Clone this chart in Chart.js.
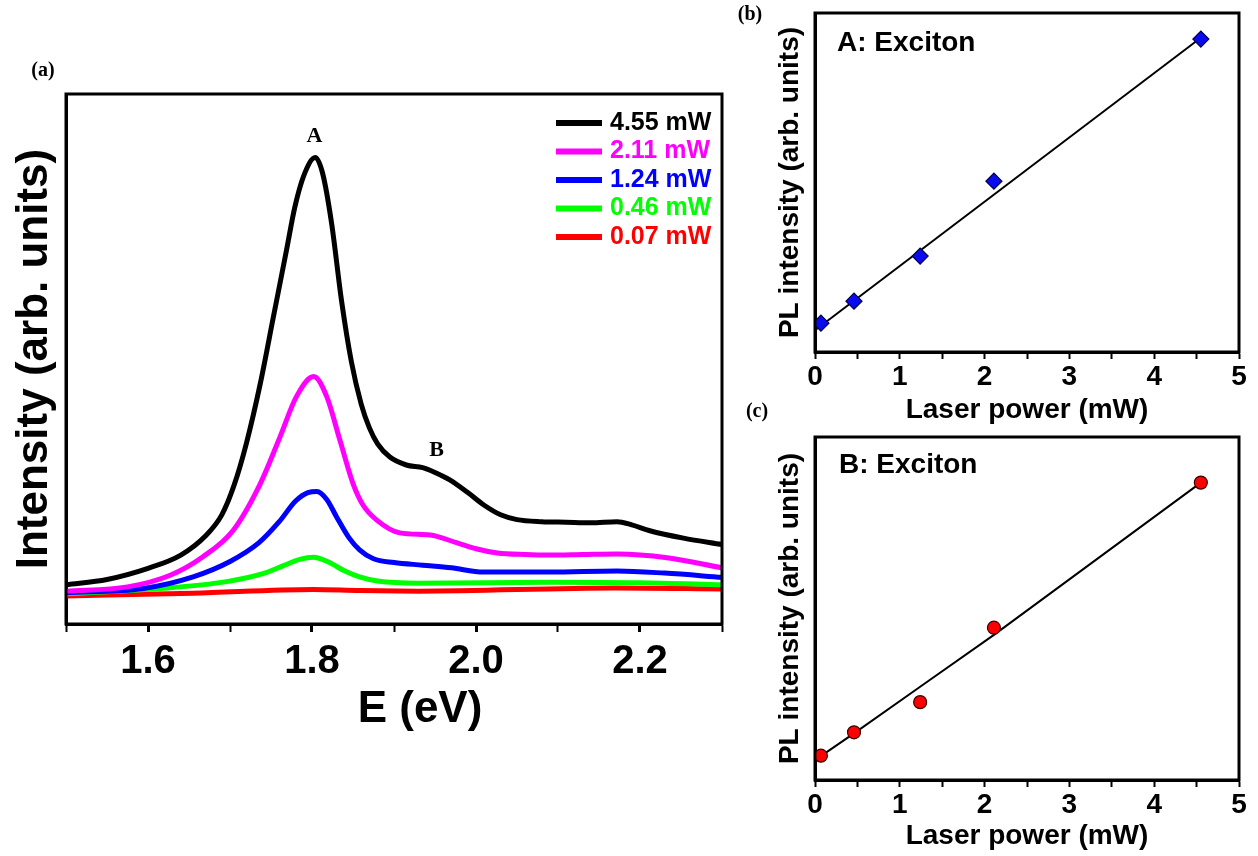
<!DOCTYPE html>
<html>
<head>
<meta charset="utf-8">
<title>PL spectra and power dependence</title>
<script src="https://cdn.jsdelivr.net/npm/chart.js@4.4.0/dist/chart.umd.min.js"></script>
<style>
  body { margin: 0; background: #fff; }
  #page { position: relative; width: 1258px; height: 856px; overflow: hidden; }
  canvas { position: absolute; }
  #chart-a { left: 0; top: 0; }
  #chart-b { left: 730px; top: 0; }
  #chart-c { left: 730px; top: 395px; }
</style>
</head>
<body>
<div id="page">
  <canvas id="chart-a" width="740" height="760"></canvas>
  <canvas id="chart-b" width="528" height="430"></canvas>
  <canvas id="chart-c" width="528" height="461"></canvas>
</div>
<script>
const SANS = '"Liberation Sans", Arial, sans-serif';
const SERIF = '"Liberation Serif", "Times New Roman", serif';

// PL spectra, one energy / intensity pair per laser power
const powerLabels = ['4.55 mW', '2.11 mW', '1.24 mW', '0.46 mW', '0.07 mW'];
const powerColors = ['#000000', '#ff00ff', '#0000ff', '#00ff00', '#ff0000'];

const energy455 = [1.50, 1.55, 1.60, 1.64, 1.67, 1.69, 1.705, 1.72, 1.737, 1.753, 1.769, 1.779, 1.79, 1.804, 1.813, 1.824, 1.836, 1.848, 1.86, 1.87, 1.88, 1.895, 1.915, 1.935, 1.95, 1.968, 1.99, 2.01, 2.03, 2.05, 2.08, 2.11, 2.14, 2.172, 2.19, 2.212, 2.253, 2.30];
const counts455 = [7.4, 8.4, 10.5, 13.0, 16.6, 20.6, 26.2, 34.1, 45.4, 58.0, 70.6, 78.6, 84.6, 88.0, 85.0, 75.5, 61.0, 49.5, 41.5, 37.0, 34.0, 31.5, 30.0, 29.5, 28.6, 27.2, 24.8, 22.4, 20.6, 19.7, 19.3, 19.2, 19.1, 19.3, 18.7, 17.6, 16.2, 15.0];

const energy211 = [1.50, 1.575, 1.627, 1.667, 1.704, 1.737, 1.761, 1.781, 1.802, 1.818, 1.834, 1.85, 1.862, 1.879, 1.907, 1.944, 1.977, 2.0, 2.026, 2.06, 2.09, 2.13, 2.172, 2.233, 2.30];
const counts211 = [6.2, 7.0, 9.2, 12.7, 17.7, 26.5, 35.3, 42.9, 46.7, 42.9, 34.7, 26.5, 22.5, 19.6, 17.2, 16.8, 15.3, 14.2, 13.4, 13.1, 13.0, 13.1, 13.2, 12.5, 10.6];

const energy124 = [1.50, 1.594, 1.655, 1.70, 1.735, 1.76, 1.78, 1.795, 1.806, 1.818, 1.83, 1.845, 1.858, 1.875, 1.90, 1.935, 1.97, 2.009, 2.09, 2.172, 2.23, 2.30];
const counts124 = [5.9, 6.7, 8.9, 11.8, 15.3, 19.3, 23.2, 24.8, 25.0, 23.5, 20.2, 16.3, 14.0, 12.3, 11.6, 11.1, 10.6, 9.8, 9.8, 10.0, 9.6, 8.8];

const energy046 = [1.50, 1.615, 1.696, 1.74, 1.765, 1.785, 1.802, 1.82, 1.84, 1.858, 1.88, 1.93, 2.09, 2.20, 2.30];
const counts046 = [5.7, 6.7, 8.0, 9.5, 11.0, 12.2, 12.6, 11.7, 10.0, 8.9, 8.1, 7.7, 7.9, 7.8, 7.4];

const energy007 = [1.50, 1.655, 1.802, 1.858, 1.93, 2.17, 2.30];
const counts007 = [5.3, 5.8, 6.5, 6.3, 6.2, 6.8, 6.6];

const spectraE = [energy455, energy211, energy124, energy046, energy007];
const spectraI = [counts455, counts211, counts124, counts046, counts007];

// Peak intensity vs laser power
const laserPower = [0.07, 0.46, 1.24, 2.11, 4.55];
const peakA = [8.5, 15.0, 28.3, 50.4, 92.3];
const peakB = [7.1, 13.9, 22.7, 44.4, 86.7];

// fit curves
const fitAPower = [0.02, 4.55];
const fitAIntensity = [6.8, 92.7];
const fitBPower = [0.06, 0.46, 1.24, 2.11, 4.55];
const fitBIntensity = [6.8, 13.6, 27.2, 42.3, 86.7];

const toPoints = (xs, ys) => xs.map((x, i) => ({ x, y: ys[i] }));

// closed box around the plot area
const frame = {
  id: 'frame',
  afterDraw(chart) {
    const { ctx, chartArea: a } = chart;
    ctx.save();
    ctx.lineWidth = 3;
    ctx.strokeStyle = '#000';
    ctx.strokeRect(a.left, a.top, a.right - a.left, a.bottom - a.top);
    ctx.restore();
  }
};

// free text: panel letters, peak names, exciton names
function makeNotes(items) {
  return {
    id: 'notes',
    afterDraw(chart) {
      const { ctx, chartArea: a } = chart;
      items.forEach(n => {
        let x = n.x, y = n.y;
        if (n.at === 'data') {
          x = chart.scales.x.getPixelForValue(n.x);
          y = chart.scales.y.getPixelForValue(n.y);
        } else if (n.at === 'area') {
          x = a.left + n.x;
          y = a.top + n.y;
        }
        ctx.save();
        ctx.font = n.font;
        ctx.fillStyle = '#000';
        ctx.textAlign = n.align || 'left';
        ctx.textBaseline = 'middle';
        ctx.fillText(n.text, x, y);
        ctx.restore();
      });
    }
  };
}

// legend with coloured labels, top right of the spectra
const powerLegend = {
  id: 'powerLegend',
  afterDraw(chart) {
    const { ctx, chartArea: a } = chart;
    ctx.save();
    ctx.font = 'bold 25px ' + SANS;
    ctx.textBaseline = 'middle';
    ctx.textAlign = 'left';
    chart.data.datasets.forEach((ds, i) => {
      const y = a.top + 29 + i * 28.5;
      ctx.strokeStyle = ds.borderColor;
      ctx.lineWidth = 6;
      ctx.beginPath();
      ctx.moveTo(a.right - 166, y);
      ctx.lineTo(a.right - 120, y);
      ctx.stroke();
      ctx.fillStyle = ds.borderColor;
      ctx.fillText(ds.label, a.right - 112, y);
    });
    ctx.restore();
  }
};

const blackFont = (size) => ({ family: SANS, size, weight: 'bold' });

// (a) spectra
new Chart(document.getElementById('chart-a'), {
  type: 'line',
  data: {
    datasets: powerLabels.map((label, i) => ({
      label,
      data: toPoints(spectraE[i], spectraI[i]),
      borderColor: powerColors[i],
      borderWidth: 5,
      pointRadius: 0,
      cubicInterpolationMode: 'monotone',
      fill: false
    }))
  },
  options: {
    responsive: false,
    animation: false,
    layout: { padding: { top: 94, right: 18, left: 0, bottom: 0 } },
    plugins: { legend: { display: false }, tooltip: { enabled: false } },
    scales: {
      x: {
        type: 'linear',
        min: 1.5,
        max: 2.3,
        afterFit: s => { s.height = 136; },
        ticks: {
          stepSize: 0.1,
          autoSkip: false,
          maxRotation: 0,
          padding: 6,
          color: '#000',
          font: blackFont(40),
          callback: v => (Math.round(v * 10) % 2 === 0 ? v.toFixed(1) : '')
        },
        grid: {
          drawOnChartArea: false, drawTicks: true, tickLength: 8, tickColor: '#000',
          tickWidth: c => (Math.round(c.tick.value * 10) % 2 === 0 ? 3 : 2)
        },
        border: { display: true, color: '#000', width: 3 },
        title: { display: false, text: 'E (eV)' }
      },
      y: {
        min: 0,
        max: 100,
        afterFit: s => { s.width = 66; },
        ticks: { display: false },
        grid: { display: false },
        border: { display: true, color: '#000', width: 3 },
        title: { display: true, text: 'Intensity (arb. units)', color: '#000', font: blackFont(44), padding: { top: 8, bottom: 0 } }
      }
    }
  },
  plugins: [frame, powerLegend, makeNotes([
    { text: '(a)', x: 43, y: 71, font: 'bold 20px ' + SERIF, align: 'center' },
    { text: 'A', at: 'data', x: 1.803, y: 92, font: 'bold 22px ' + SERIF, align: 'center' },
    { text: 'B', at: 'data', x: 1.952, y: 32.8, font: 'bold 22px ' + SERIF, align: 'center' },
    // axis title sits a little right of the axis centre
    { text: 'E (eV)', at: 'area', x: 354, y: 616, font: 'bold 44px ' + SANS, align: 'center' }
  ])]
});

// shared layout for the two power-dependence panels
function powerPanel(canvasId, pts, fitX, fitY, marker, opts) {
  return new Chart(document.getElementById(canvasId), {
    type: 'scatter',
    data: {
      datasets: [
        {
          data: toPoints(laserPower, pts),
          pointStyle: marker.style,
          pointRadius: marker.radius,
          backgroundColor: marker.fill,
          borderColor: marker.edge,
          borderWidth: 1.2
        },
        {
          data: toPoints(fitX, fitY),
          showLine: true,
          pointRadius: 0,
          borderColor: '#000',
          borderWidth: 2,
          tension: 0
        }
      ]
    },
    options: {
      responsive: false,
      animation: false,
      layout: { padding: { top: opts.top, right: 19, left: 0, bottom: 0 } },
      plugins: { legend: { display: false }, tooltip: { enabled: false } },
      scales: {
        x: {
          type: 'linear',
          min: 0,
          max: 5,
          afterFit: s => { s.height = opts.xHeight; },
          ticks: {
            stepSize: 0.5,
            autoSkip: false,
            maxRotation: 0,
            padding: 1,
            color: '#000',
            font: blackFont(28),
            callback: v => (Math.abs(v - Math.round(v)) < 1e-6 ? String(Math.round(v)) : '')
          },
          grid: { drawOnChartArea: false, drawTicks: true, tickLength: 7, tickWidth: 2, tickColor: '#000' },
          border: { display: true, color: '#000', width: 3 },
          title: { display: true, text: 'Laser power (mW)', color: '#000', font: blackFont(28), padding: { top: 0, bottom: 3 } }
        },
        y: {
          min: 0,
          max: 100,
          afterFit: s => { s.width = 85; },
          ticks: { display: false },
          grid: { display: false },
          border: { display: true, color: '#000', width: 3 },
          title: { display: true, text: 'PL intensity (arb. units)', color: '#000', font: blackFont(28), padding: { top: 43, bottom: 0 } }
        }
      }
    },
    plugins: [frame, makeNotes(opts.notes)]
  });
}

// (b) A exciton
powerPanel('chart-b', peakA, fitAPower, fitAIntensity,
  { style: 'rectRot', radius: 8, fill: '#0a0aee', edge: '#00004a' },
  {
    top: 13, xHeight: 78,
    notes: [
      { text: '(b)', x: 20, y: 15, font: 'bold 20px ' + SERIF, align: 'center' },
      { text: 'A: Exciton', at: 'area', x: 22, y: 30, font: 'bold 28px ' + SANS }
    ]
  });

// (c) B exciton
powerPanel('chart-c', peakB, fitBPower, fitBIntensity,
  { style: 'circle', radius: 6.5, fill: '#ff0000', edge: '#3a0000' },
  {
    top: 42, xHeight: 76,
    notes: [
      { text: '(c)', x: 27, y: 17, font: 'bold 20px ' + SERIF, align: 'center' },
      { text: 'B: Exciton', at: 'area', x: 24, y: 28, font: 'bold 28px ' + SANS }
    ]
  });
</script>
</body>
</html>
